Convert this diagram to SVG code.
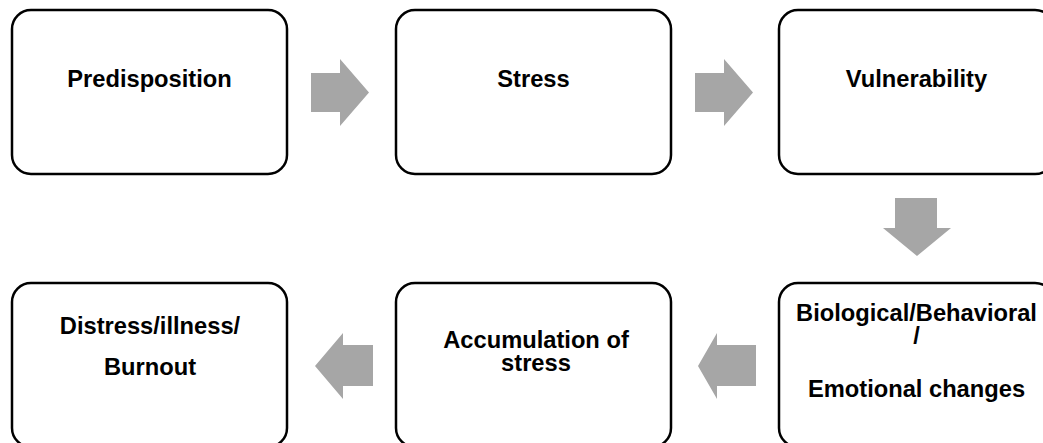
<svg xmlns="http://www.w3.org/2000/svg" width="1043" height="443" viewBox="0 0 1043 443">
<style>
.box{fill:#fff;stroke:#000;stroke-width:2.5}
.arr{fill:#a6a6a6}
.t{font-family:"Liberation Sans",Arial,sans-serif;font-weight:bold;font-size:23.7px;fill:#000;text-anchor:middle}
</style>
<rect width="1043" height="443" fill="#fff"/>
<g id="connectors">
<polygon class="arr" points="311,73 340,73 340,59 369,92.5 340,126 340,112 311,112"/>
<polygon class="arr" points="695,73 724,73 724,59 753,92.5 724,126 724,112 695,112"/>
<polygon class="arr" points="895,198 937,198 937,228 951,228 917,256 883,228 895,228"/>
<polygon class="arr" points="756,345 717,345 717,333 698,366 717,399 717,386 756,386"/>
<polygon class="arr" points="373,345 343,345 343,333 315,366 343,399 343,386 373,386"/>
</g>
<g id="n1"><rect class="box" x="12" y="10" width="275" height="164" rx="19"/><text class="t" x="149.5" y="87">Predisposition</text></g>
<g id="n2"><rect class="box" x="396" y="10" width="275" height="164" rx="19"/><text class="t" x="533.5" y="87">Stress</text></g>
<g id="n3"><rect class="box" x="779" y="10" width="275" height="164" rx="19"/><text class="t" x="916.5" y="87">Vulnerability</text></g>
<g id="n4"><rect class="box" x="779" y="283" width="275" height="164" rx="19"/><text class="t" x="916.5" y="321">Biological/Behavioral</text><text class="t" x="916.5" y="344">/</text><text class="t" x="916.5" y="397">Emotional changes</text></g>
<g id="n5"><rect class="box" x="396" y="283" width="275" height="164" rx="19"/><text class="t" x="536" y="348">Accumulation of</text><text class="t" x="536" y="371">stress</text></g>
<g id="n6"><rect class="box" x="12" y="283" width="275" height="164" rx="19"/><text class="t" x="150" y="334">Distress/illness/</text><text class="t" x="150" y="375">Burnout</text></g>
</svg>
